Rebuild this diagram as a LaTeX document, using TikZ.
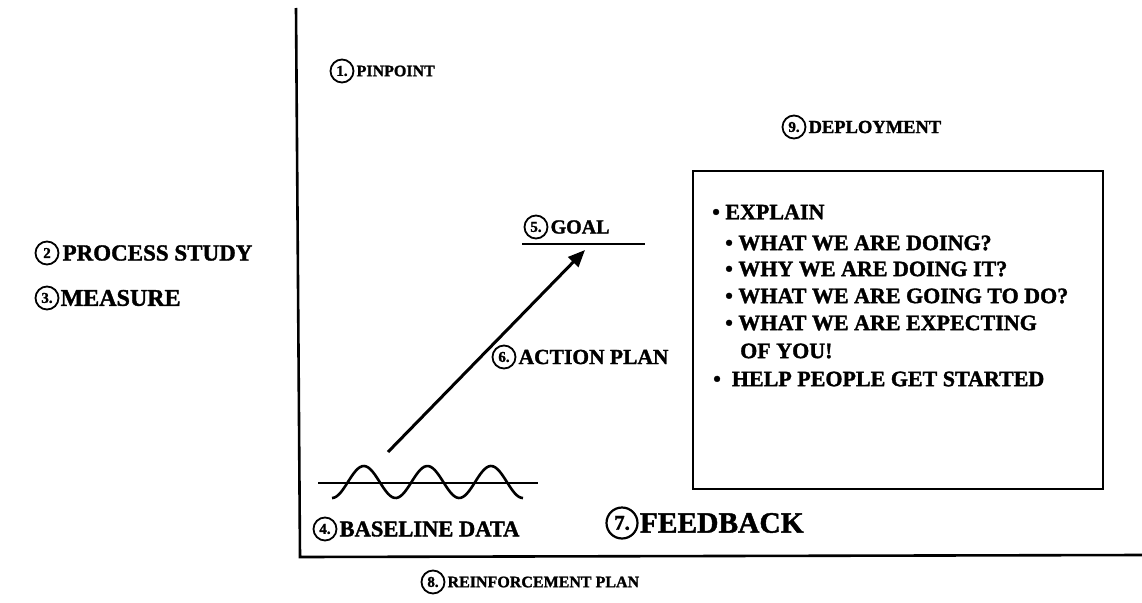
\documentclass[tikz,border=0pt]{standalone}
\usepackage{fontspec}
\setmainfont{Liberation Serif}[BoldFeatures={FakeBold=1.5}]
\usetikzlibrary{arrows.meta}
\tikzset{
  num/.style={circle, draw, line width=1.8pt, inner sep=0pt, minimum size=23pt, font=\bfseries\fontsize{15}{15}\selectfont},
  bignum/.style={circle, draw, line width=2.2pt, inner sep=0pt, minimum size=31pt, font=\bfseries\fontsize{21}{21}\selectfont},
  lab/.style={anchor=west, inner sep=0pt, font=\bfseries\fontsize{#1}{#1}\selectfont},
  lab/.default=20,
  item/.style={anchor=west, inner sep=0pt, font=\bfseries\fontsize{22}{22}\selectfont},
  thick line/.style={line width=2.6pt},
}
\begin{document}
\begin{tikzpicture}[x=1pt,y=-1pt]
\useasboundingbox (0,0) rectangle (1142,602);
% axes
\coordinate (ytop) at (296,8);
\coordinate (orig) at (300,557);
\coordinate (xend) at (1142,555);
\draw[thick line] (ytop) -- (orig) -- (xend);
% 1 pinpoint
\node[num] (c1) at (342,71) {1.};
\node[lab=16] (t1) at ([xshift=2pt]c1.east) {PINPOINT};
% 9 deployment
\node[num] (c9) at (794,127) {9.};
\node[lab=18.5] (t9) at ([xshift=2pt]c9.east) {DEPLOYMENT};
% 2 process study
\node[num] (c2) at (47,253) {2};
\node[lab=23] (t2) at ([xshift=3pt]c2.east) {PROCESS STUDY};
% 3 measure
\node[num] (c3) at (47,298) {3.};
\node[lab=24] (t3) at ([xshift=1pt]c3.east) {MEASURE};
% 5 goal
\node[num] (c5) at (536,227) {5.};
\node[lab=20] (t5) at ([xshift=2pt]c5.east) {GOAL};
\coordinate (gl) at (522,244);
\coordinate (gr) at (645,244);
\draw[thick line] (gl) -- (gr);
% 6 action plan arrow
\coordinate (as) at (388,452);
\coordinate (ae) at (585,250);
\draw[line width=3pt, -{Triangle[length=17pt,width=14pt]}] (as) -- (ae);
\node[num] (c6) at (504,357) {6.};
\node[lab=21.5] (t6) at ([xshift=2pt]c6.east) {ACTION PLAN};
% deployment box
\node[draw, line width=2.4pt, anchor=north west, minimum width=410pt, minimum height=318pt, inner sep=0pt] (box) at (692,170) {};
\node[item] (i1) at (712,212) {• EXPLAIN};
\node[item] (i2) at (725,243) {• WHAT WE ARE DOING?};
\node[item] (i3) at (725,269) {• WHY WE ARE DOING IT?};
\node[item] (i4) at (725,296) {• WHAT WE ARE GOING TO DO?};
\node[item] (i5) at (725,323) {• WHAT WE ARE EXPECTING};
\node[item] (i6) at (740,351) {OF YOU!};
\node[item] (i7) at (713,379) {•\ \ HELP PEOPLE GET STARTED};
% baseline data
\coordinate (bl) at (318,483);
\coordinate (br) at (538,483);
\draw[thick line] (bl) -- (br);
\draw[line width=2.6pt, smooth, domain=332:523, samples=90] plot (\x, {482+16*cos(((\x-332)/63.6)*360)});
\node[num] (c4) at (325,529) {4.};
\node[lab=22.5] (t4) at ([xshift=2pt]c4.east) {BASELINE DATA};
% 7 feedback
\node[bignum] (c7) at (622,523) {7.};
\node[lab=29.5] (t7) at ([xshift=1pt]c7.east) {FEEDBACK};
% 8 reinforcement
\node[num] (c8) at (433,582) {8.};
\node[lab=16] (t8) at ([xshift=2pt]c8.east) {REINFORCEMENT PLAN};
\end{tikzpicture}
\end{document}
